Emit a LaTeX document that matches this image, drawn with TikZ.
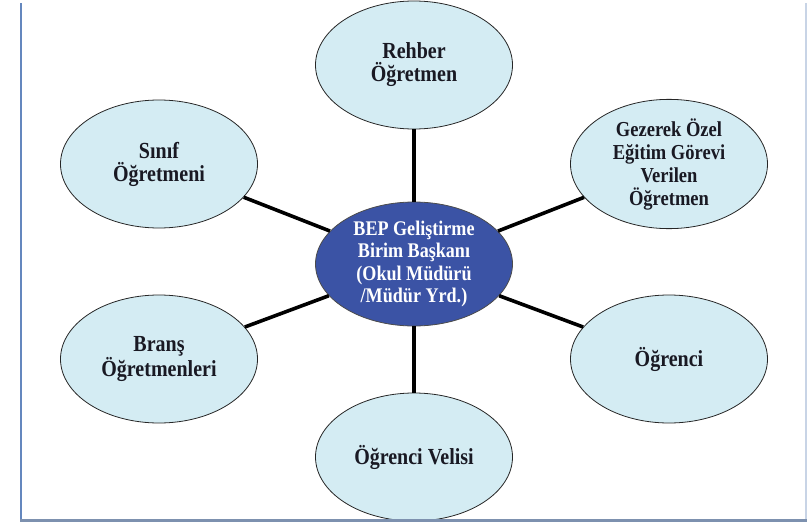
\documentclass[tikz,border=0pt]{standalone}
\usepackage{fontspec}
\setmainfont{Liberation Serif}[FakeStretch=0.87]
\usepackage{tikz}
\usetikzlibrary{shapes.geometric}

\definecolor{acikmavi}{RGB}{212,236,243}
\definecolor{koyumavi}{RGB}{59,83,165}
\definecolor{cizgimavi}{RGB}{100,135,190}
\definecolor{altcizgi}{RGB}{125,145,175}
\definecolor{sagcizgi}{RGB}{200,212,230}
\definecolor{yazirengi}{RGB}{25,25,35}

\begin{document}
\begin{tikzpicture}[x=1pt,y=-1pt,
    birim/.style={ellipse, draw=black!85, line width=0.8pt, fill=acikmavi,
      minimum width=197pt, minimum height=128pt, inner sep=0pt,
      align=center, text=yazirengi},
    baglanti/.style={line width=3.6pt, black}]
      \def \cx {414}
      \def \cy {264}
      \useasboundingbox (0,0) rectangle (807,525);

      \node[birim, fill=koyumavi, draw=black!70, text=white, minimum height=124pt,
        font=\bfseries\fontsize{20.8}{22.5}\selectfont] (bep) at (\cx,\cy)
        {BEP Geliştirme\\Birim Başkanı\\(Okul Müdürü\\/Müdür Yrd.)};

      \foreach \ad/\x/\y/\boy/\yazi in {rehber/414/65/23/{Rehber\\Öğretmen},
          sinif/159/164/23/{Sınıf\\Öğretmeni},
          gezerek/669/164/21.3/{Gezerek Özel\\Eğitim Görevi\\Verilen\\Öğretmen},
          brans/159/359/23/{Branş\\Öğretmenleri},
          ogrenci/669/359/23/{Öğrenci},
          veli/414/457/23/{Öğrenci Velisi}}
      {
        \node[birim, font=\bfseries\fontsize{\boy}{23}\selectfont] (\ad) at (\x,\y) {\yazi};
        \draw[baglanti] (bep) -- (\ad);
      }

      % sayfa cercevesi
      \draw[cizgimavi, line width=2pt] (21,3) -- (21,520);
      \draw[sagcizgi, line width=1.5pt] (806,3) -- (806,520);
      \draw[altcizgi, line width=3pt] (20,520) -- (807,520);
    \end{tikzpicture}
\end{document}
